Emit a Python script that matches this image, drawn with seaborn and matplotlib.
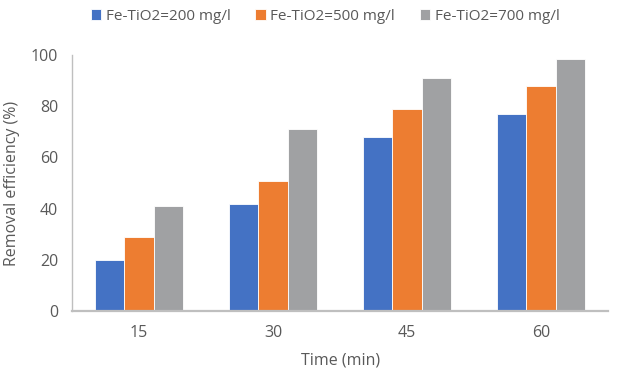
import matplotlib
matplotlib.use("Agg")
import matplotlib.pyplot as plt
import seaborn as sns
import pandas as pd

times = ["15", "30", "45", "60"]
series_names = ["Fe-TiO2=200 mg/l", "Fe-TiO2=500 mg/l", "Fe-TiO2=700 mg/l"]
vals_200 = [20, 42, 68, 77]
vals_500 = [29, 51, 79, 88]
vals_700 = [41, 71, 91, 98.5]
colors = ["#4472C4", "#ED7D31", "#A0A1A3"]

rows = []
for name, vals in zip(series_names, [vals_200, vals_500, vals_700]):
    for t, v in zip(times, vals):
        rows.append({"Time": t, "Series": name, "Value": v})
df = pd.DataFrame(rows)

sns.set_style("white")
plt.rcParams['font.family'] = ['Open Sans', 'DejaVu Sans']
text_color = "#595959"

fig = plt.figure(figsize=(6.27, 3.74), dpi=100)
ax = fig.add_axes([0.115, 0.168, 0.855, 0.685])
sns.barplot(data=df, x="Time", y="Value", hue="Series", order=times,
            hue_order=series_names, palette=colors, ax=ax, width=0.66,
            saturation=1, edgecolor="white", linewidth=0.6, legend=True)

ax.set_ylim(0, 100)
ax.set_yticks([0, 20, 40, 60, 80, 100])
ax.set_xlim(-0.5, 3.5)
ax.set_xlabel("Time (min)", fontsize=11.5, color=text_color, labelpad=8)
ax.set_ylabel("Removal efficiency (%)", fontsize=11.5, color=text_color, labelpad=8)
ax.tick_params(axis="both", length=0, labelsize=11.5, labelcolor=text_color, pad=10)
for s in ["top", "right"]:
    ax.spines[s].set_visible(False)
ax.spines["left"].set_color("#BFBFBF")
ax.spines["left"].set_linewidth(1.0)
ax.spines["bottom"].set_color("#BFBFBF")
ax.spines["bottom"].set_linewidth(1.6)

h, l = ax.get_legend_handles_labels()
ax.legend(h, l, loc="center", bbox_to_anchor=(0.472, 1.152), ncol=3,
          frameon=False, fontsize=11, labelcolor=text_color,
          handlelength=0.7, handleheight=0.7, handletextpad=0.3, columnspacing=1.6)

fig.savefig("out.png", dpi=100)
